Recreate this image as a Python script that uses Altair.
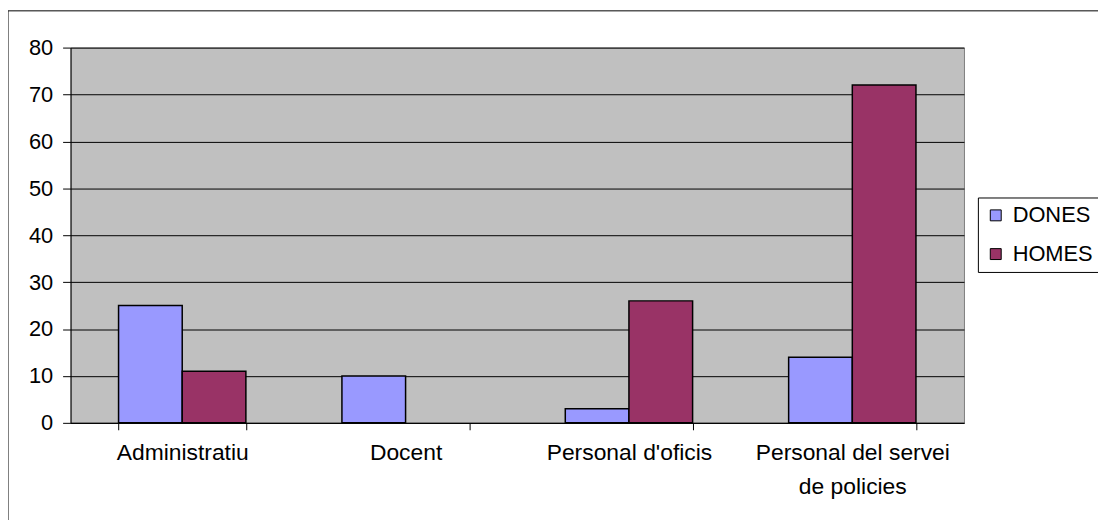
import altair as alt
import pandas as pd

categories = ["Administratiu", "Docent", "Personal d'oficis", "Personal del servei de policies"]
series = ["DONES", "HOMES"]
dones = [25, 10, 3, 14]
homes = [11, 0, 26, 72]
colors = ["#9999FF", "#993366"]

rows = []
for c, d, h in zip(categories, dones, homes):
    rows.append({"cat": c, "serie": "DONES", "value": d})
    rows.append({"cat": c, "serie": "HOMES", "value": h})
df = pd.DataFrame(rows)

FONT = "Liberation Sans"
FS = 22

bars = alt.Chart(df).transform_filter("datum.value > 0").mark_bar(
    stroke="black", strokeWidth=1.5
).encode(
    x=alt.X("cat:N", sort=categories, title=None,
            scale=alt.Scale(domain=categories, paddingInner=0.43, paddingOuter=0.215),
            axis=alt.Axis(labelAngle=0, tickBand="extent", domainColor="black",
                          tickColor="black", tickSize=7, labelPadding=12,
                          labelFont=FONT, labelFontSize=23, labelColor="black",
                          labelLimit=300, labelLineHeight=34,
                          labelExpr="datum.label == 'Personal del servei de policies' ? ['Personal del servei', 'de policies'] : datum.label")),
    xOffset=alt.XOffset("serie:N", sort=series,
                        scale=alt.Scale(domain=series, paddingInner=0, paddingOuter=0)),
    y=alt.Y("value:Q", title=None,
            scale=alt.Scale(domain=[0, 80], nice=False),
            axis=alt.Axis(values=list(range(0, 81, 10)), grid=True, gridColor="black",
                          gridOpacity=1, gridWidth=1, domainColor="black", tickColor="black",
                          tickSize=8, labelPadding=10, labelFont=FONT, labelFontSize=FS,
                          labelColor="black")),
    color=alt.Color("serie:N", sort=series, scale=alt.Scale(domain=series, range=colors),
                    legend=alt.Legend(title=None, orient="none", legendX=914, legendY=151,
                                      strokeColor="black", fillColor="white", padding=7,
                                      symbolType="square", symbolSize=121,
                                      symbolStrokeColor="black", symbolStrokeWidth=1,
                                      symbolOpacity=1,
                                      labelFont=FONT, labelFontSize=FS, labelColor="black",
                                      labelOffset=6, rowPadding=17)),
)

frame = alt.Chart(pd.DataFrame({"f": [0]})).mark_rect(
    fill=None, stroke="black", strokeWidth=1
).encode(
    x=alt.value(-63), x2=alt.value(1100), y=alt.value(-37), y2=alt.value(600)
)

chart = alt.layer(frame, bars).properties(
    width=900, height=378,
    autosize=alt.AutoSizeParams(type="none"),
    padding={"left": 63, "top": 38, "right": 135, "bottom": 96},
    background="white",
).configure_view(
    fill="#C0C0C0", stroke="#808080", strokeWidth=1
)

chart.save("out.html", embed_options={"renderer": "svg", "actions": False})
